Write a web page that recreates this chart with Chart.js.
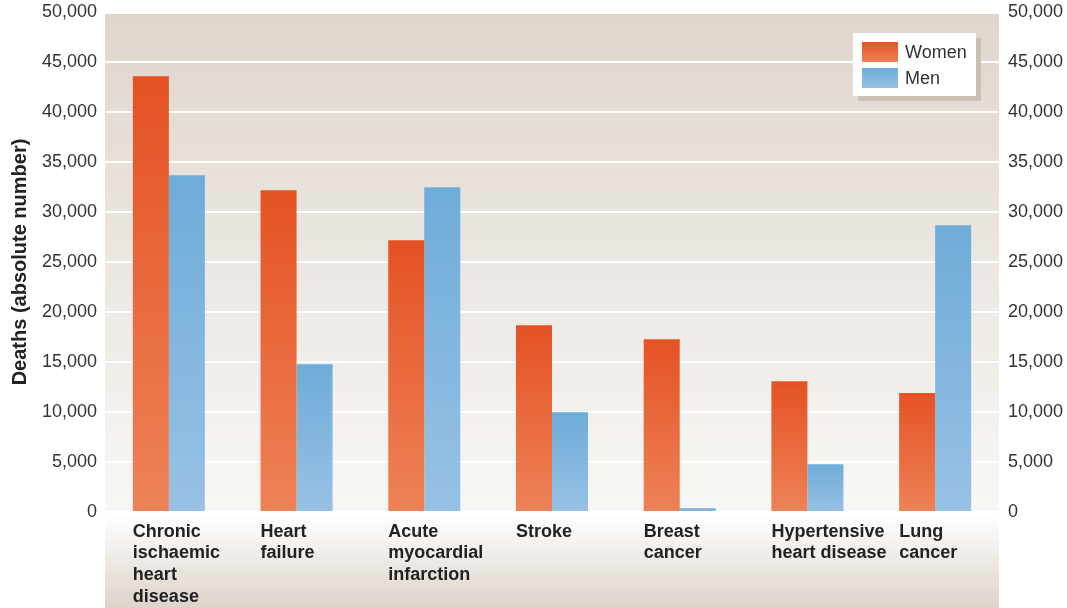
<!DOCTYPE html>
<html>
<head>
<meta charset="utf-8">
<script src="https://cdn.jsdelivr.net/npm/chart.js@4/dist/chart.umd.min.js"></script>
<style>
  body { margin: 0; background: #fff; }
  #wrap { width: 1067px; height: 608px; }
</style>
</head>
<body>
<div id="wrap"><canvas id="deathsChart" width="1067" height="608"></canvas></div>
<script>
const categories = [
  ['Chronic', 'ischaemic', 'heart', 'disease'],
  ['Heart', 'failure'],
  ['Acute', 'myocardial', 'infarction'],
  ['Stroke'],
  ['Breast', 'cancer'],
  ['Hypertensive', 'heart disease'],
  ['Lung', 'cancer']
];
const women = [43570, 32170, 27170, 18670, 17270, 13070, 11900];
const men = [33670, 14770, 32470, 9970, 370, 4770, 28670];
const yTicks = [0, 5000, 10000, 15000, 20000, 25000, 30000, 35000, 40000, 45000, 50000];

const FONT = '"Liberation Sans", Arial, Helvetica, sans-serif';
const womenCols = ['#e45224', '#ee8257'];
const menCols = ['#6eacd9', '#98c1e4'];

// each bar gets its own dark-to-light vertical gradient
function barFill(cols) {
  return function (c) {
    const chart = c.chart;
    const area = chart.chartArea;
    if (!area || !c.parsed) return cols[0];
    const yTop = chart.scales.y.getPixelForValue(c.parsed.y);
    if (!(area.bottom - yTop > 0)) return cols[0];
    const g = chart.ctx.createLinearGradient(0, yTop, 0, area.bottom);
    g.addColorStop(0, cols[0]);
    g.addColorStop(1, cols[1]);
    return g;
  };
}

const backdrop = {
  id: 'backdrop',
  beforeDraw(chart) {
    const { ctx, chartArea: a, height } = chart;
    const top = a.top + 2;
    ctx.save();
    let g = ctx.createLinearGradient(0, top, 0, a.bottom);
    g.addColorStop(0, '#dfd6cd');
    g.addColorStop(1, '#f8f7f5');
    ctx.fillStyle = g;
    ctx.fillRect(a.left, top, a.right - a.left, a.bottom - top);
    g = ctx.createLinearGradient(0, a.bottom + 2, 0, height);
    g.addColorStop(0, '#ffffff');
    g.addColorStop(1, '#ddd3c9');
    ctx.fillStyle = g;
    ctx.fillRect(a.left, a.bottom + 2, a.right - a.left, height - a.bottom - 2);
    ctx.restore();
  }
};

const boxLegend = {
  id: 'boxLegend',
  afterDraw(chart) {
    const { ctx } = chart;
    const x = 853, y = 33, w = 123, h = 63;
    ctx.save();
    ctx.fillStyle = '#cbbfb3';
    ctx.fillRect(x + 5, y + 5, w, h);
    ctx.fillStyle = '#ffffff';
    ctx.fillRect(x, y, w, h);
    const sets = chart.data.datasets;
    const cols = [womenCols, menCols];
    sets.forEach((ds, i) => {
      const sy = 42 + i * 26;
      const g = ctx.createLinearGradient(0, sy, 0, sy + 20);
      g.addColorStop(0, cols[i][0]);
      g.addColorStop(1, cols[i][1]);
      ctx.fillStyle = g;
      ctx.fillRect(862, sy, 36, 20);
      ctx.fillStyle = '#333';
      ctx.font = '18px ' + FONT;
      ctx.textBaseline = 'middle';
      ctx.fillText(ds.label, 905, sy + 11);
    });
    ctx.restore();
  }
};

function fixY(width) {
  return function (scale) {
    scale.width = width;
    scale.paddingTop = 0;
    scale.paddingBottom = 0;
  };
}

const ctx = document.getElementById('deathsChart').getContext('2d');
const deathsChart = new Chart(ctx, {
  type: 'bar',
  data: {
    labels: categories,
    datasets: [
      {
        label: 'Women',
        data: women,
        backgroundColor: barFill(womenCols),
        barPercentage: 1,
        categoryPercentage: 0.564
      },
      {
        label: 'Men',
        data: men,
        backgroundColor: barFill(menCols),
        barPercentage: 1,
        categoryPercentage: 0.564
      }
    ]
  },
  options: {
    responsive: false,
    animation: false,
    layout: { padding: { top: 12, left: 0, right: 0, bottom: 0 } },
    plugins: {
      legend: { display: false },
      tooltip: { enabled: false }
    },
    scales: {
      x: {
        grid: { display: false },
        border: { display: false },
        ticks: {
          color: '#222',
          font: { family: FONT, size: 18, weight: 'bold', lineHeight: 1.2 },
          align: 'start',
          labelOffset: -36,
          padding: 1,
          autoSkip: false,
          maxRotation: 0,
          minRotation: 0
        },
        afterFit(scale) { scale.height = 96; }
      },
      y: {
        position: 'left',
        min: 0,
        max: 50000,
        afterBuildTicks(scale) { scale.ticks = yTicks.map(v => ({ value: v })); },
        grid: { color: '#ffffff', lineWidth: 2, drawTicks: false },
        border: { display: false },
        ticks: {
          color: '#333',
          padding: 8,
          font: { family: FONT, size: 18 },
          callback: v => v.toLocaleString('en-US')
        },
        title: {
          display: true,
          text: 'Deaths (absolute number)',
          color: '#222',
          font: { family: FONT, size: 20, weight: 'bold', lineHeight: 1.2 },
          padding: { top: 8, bottom: 0 }
        },
        afterFit: fixY(105)
      },
      y2: {
        position: 'right',
        min: 0,
        max: 50000,
        afterBuildTicks(scale) { scale.ticks = yTicks.map(v => ({ value: v })); },
        grid: { display: false, drawTicks: false },
        border: { display: false },
        ticks: {
          color: '#333',
          padding: 9,
          font: { family: FONT, size: 18 },
          callback: v => v.toLocaleString('en-US')
        },
        afterFit: fixY(68)
      }
    }
  },
  plugins: [backdrop, boxLegend]
});
</script>
</body>
</html>
